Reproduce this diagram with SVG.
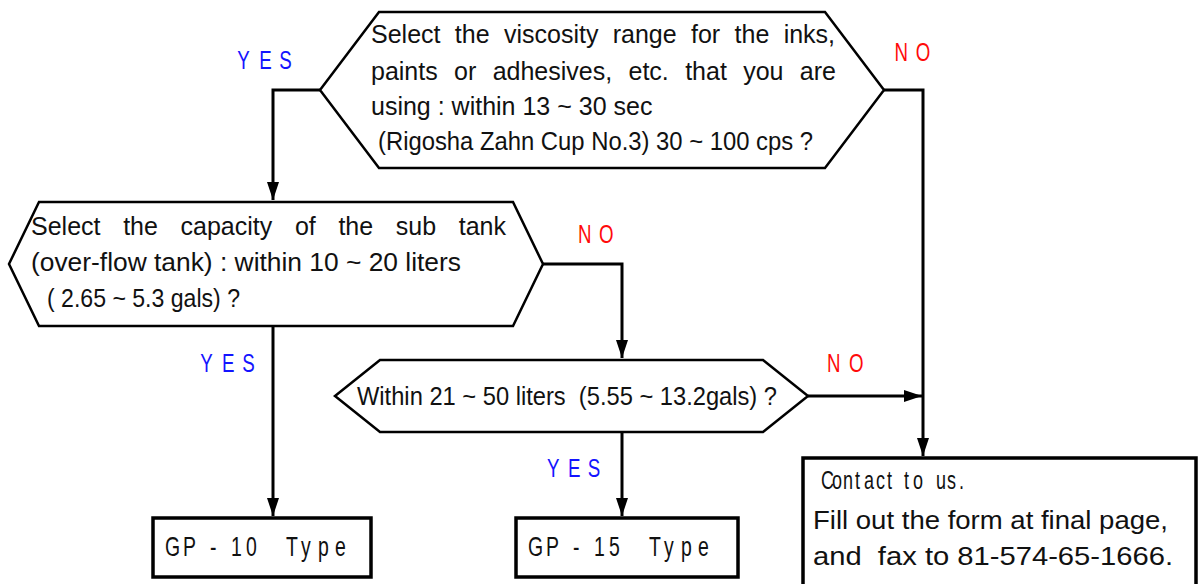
<svg xmlns="http://www.w3.org/2000/svg" width="1201" height="584" viewBox="0 0 1201 584">
<style>
.bg{fill:#ffffff}
.hex{fill:#ffffff;stroke:#000;stroke-width:2.5;stroke-linejoin:miter}
.box{fill:#ffffff;stroke:#000;stroke-width:3.5}
.conn{fill:none;stroke:#000;stroke-width:3;stroke-linejoin:miter}
.t{font-family:"Liberation Sans",Arial,sans-serif;font-size:25px;fill:#111;white-space:pre}
.c{font-family:"Liberation Sans",Arial,sans-serif;font-size:27px;fill:#111;white-space:pre}
.yes{font-family:"Liberation Sans",Arial,sans-serif;font-size:26px;fill:#1414ff}
.no{font-family:"Liberation Sans",Arial,sans-serif;font-size:26px;fill:#ff0a0a}
</style>
<defs>
<marker id="arr" markerUnits="userSpaceOnUse" markerWidth="18" markerHeight="12" refX="18" refY="6" orient="auto">
<path d="M0,0 L18,6 L0,12 z" fill="#000"/>
</marker>
</defs>
<rect class="bg" x="0" y="0" width="1201" height="584"/>

<g id="connectors">
<polyline class="conn" points="320,90 273,90 273,200" marker-end="url(#arr)"/>
<polyline class="conn" points="884,90 923,90 923,456" marker-end="url(#arr)"/>
<polyline class="conn" points="543,264 622,264 622,358" marker-end="url(#arr)"/>
<polyline class="conn" points="808,396 922,396" marker-end="url(#arr)"/>
<polyline class="conn" points="273,326 273,516" marker-end="url(#arr)"/>
<polyline class="conn" points="622,432 622,516" marker-end="url(#arr)"/>
</g>

<g id="labels">
<text class="yes" transform="scale(0.72 1)" x="329.5 360 388" y="69">YES</text>
<text class="yes" transform="scale(0.72 1)" x="278 308.5 336.5" y="372">YES</text>
<text class="yes" transform="scale(0.72 1)" x="759.7 789 816.5" y="477">YES</text>
<text class="no" transform="scale(0.72 1)" x="1242.5 1272" y="61">NO</text>
<text class="no" transform="scale(0.72 1)" x="802.8 832" y="243">NO</text>
<text class="no" transform="scale(0.72 1)" x="1148.6 1179" y="372">NO</text>
</g>

<g id="q-viscosity">
<polygon class="hex" points="379,12 825,12 884,90 825,168 379,168 320,90"/>
<text class="t" x="371" y="43" word-spacing="7.4">Select the viscosity range for the inks,</text>
<text class="t" x="371" y="80" word-spacing="9.4">paints or adhesives, etc. that you are</text>
<text class="t" x="371" y="115">using : within 13 ~ 30 sec</text>
<text class="t" x="378" y="150" textLength="435" lengthAdjust="spacingAndGlyphs">(Rigosha Zahn Cup No.3) 30 ~ 100 cps ?</text>
</g>

<g id="q-capacity">
<polygon class="hex" points="39,202 513,202 543,264 513,326 39,326 9,264"/>
<text class="t" x="31" y="235" word-spacing="15.7">Select the capacity of the sub tank</text>
<text class="t" x="31" y="271" textLength="430" lengthAdjust="spacingAndGlyphs">(over-flow tank) : within 10 ~ 20 liters</text>
<text class="t" x="47" y="307" textLength="193" lengthAdjust="spacingAndGlyphs">( 2.65 ~ 5.3 gals) ?</text>
</g>

<g id="q-within">
<polygon class="hex" points="380,360 763,360 808,396 763,432 380,432 335,396"/>
<text class="t" x="357" y="405" textLength="420" lengthAdjust="spacingAndGlyphs">Within 21 ~ 50 liters  (5.55 ~ 13.2gals) ?</text>
</g>

<g id="gp10">
<rect class="box" x="153" y="518" width="218" height="59"/>
<text class="c" transform="scale(0.72 1)" x="229.2 254.2 272.2 291.7 304.2 320.8 341.7 362.5 397.2 418.1 441.7 465.3" y="556">GP - 10 Type</text>
</g>

<g id="gp15">
<rect class="box" x="516" y="518" width="222" height="59"/>
<text class="c" transform="scale(0.72 1)" x="733.4 758.4 776.4 795.9 808.4 825 845.9 866.7 901.4 922.3 945.9 969.5" y="556">GP - 15 Type</text>
</g>

<g id="contact">
<rect class="box" x="803" y="458" width="393" height="140"/>
<text class="c" style="font-size:25px" transform="scale(0.72 1)" x="1140.3 1155.6 1170.8 1187.5 1200 1216.7 1231.9 1244.4 1255.6 1268.1 1284.7 1300 1315.3 1331.9" y="489">Contact to us.</text>
<text class="t" x="813" y="529" textLength="355" lengthAdjust="spacingAndGlyphs">Fill out the form at final page,</text>
<text class="t" x="813" y="565" textLength="360" lengthAdjust="spacingAndGlyphs">and  fax to 81-574-65-1666.</text>
</g>
</svg>
